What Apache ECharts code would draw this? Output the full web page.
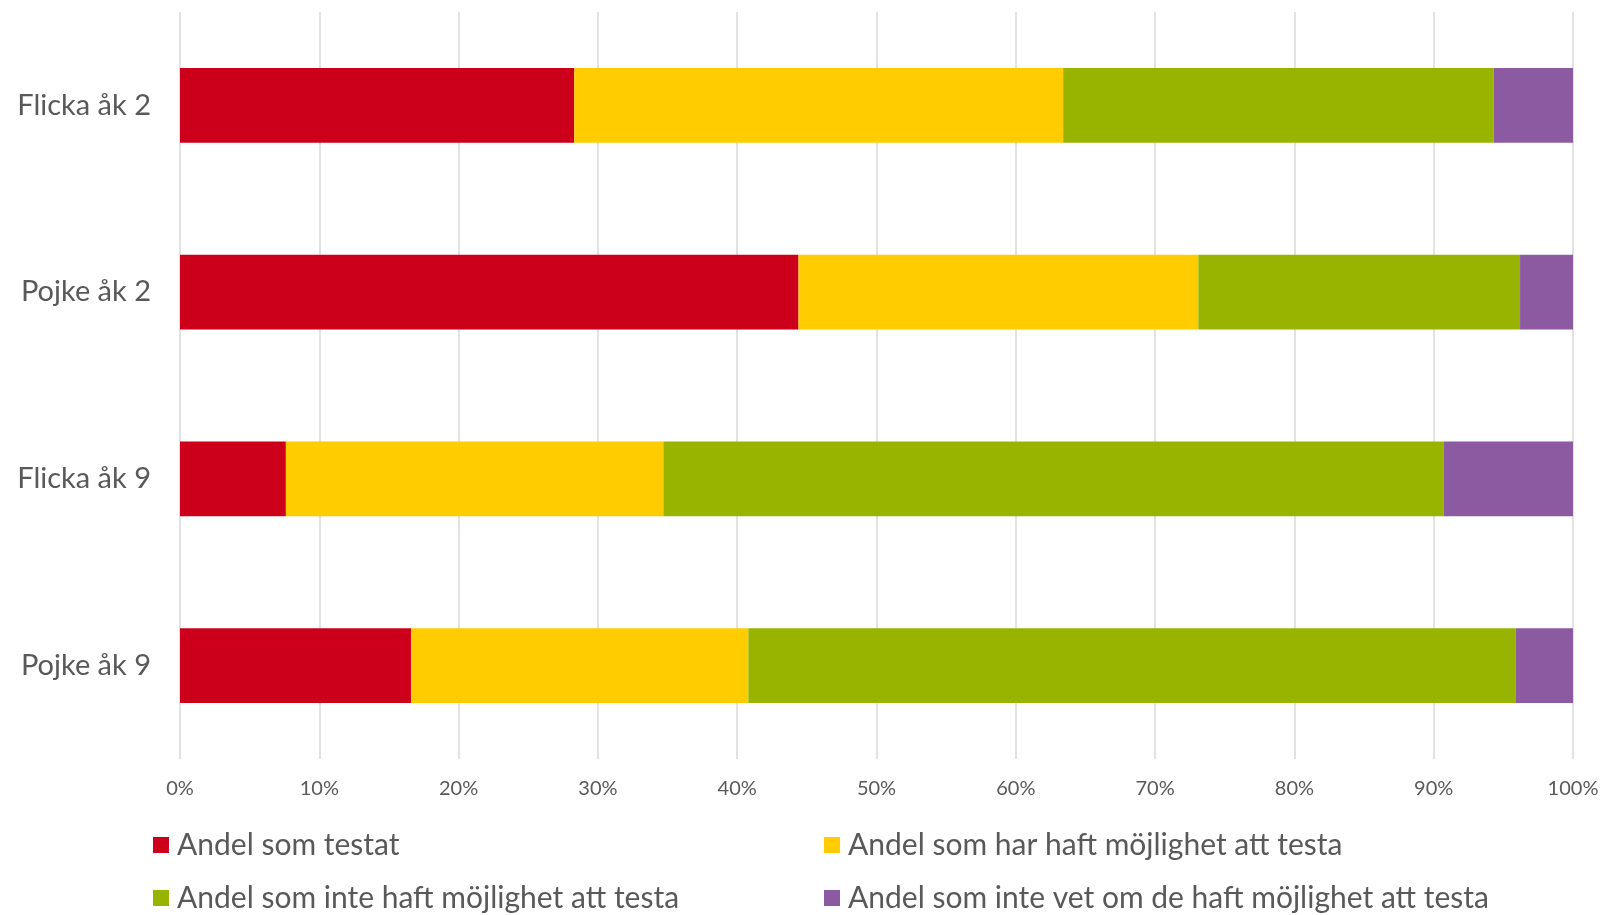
<!DOCTYPE html>
<html>
<head>
<meta charset="utf-8">
<script src="https://cdn.jsdelivr.net/npm/echarts@6/dist/echarts.min.js"></script>
<style>
  html, body { margin: 0; padding: 0; background: #fff; }
  #chart { width: 1604px; height: 915px; }
</style>
</head>
<body>
<div id="chart"></div>
<script>
// kategorier (uppifrån och ned)
var categories = ['Flicka åk 2', 'Pojke åk 2', 'Flicka åk 9', 'Pojke åk 9'];
var seriesNames = [
    'Andel som testat',
    'Andel som har haft möjlighet att testa',
    'Andel som inte haft möjlighet att testa',
    'Andel som inte vet om de haft möjlighet att testa'
];
// andelar i procent, samma ordning som categories
var testat      = [28.3, 44.4, 7.6, 16.6];
var harMojlighet = [35.1, 28.7, 27.1, 24.2];
var inteMojlighet = [30.9, 23.1, 56.0, 55.1];
var vetInte     = [5.7, 3.8, 9.3, 4.1];
var xTicks = [0, 10, 20, 30, 40, 50, 60, 70, 80, 90, 100];

var colors = ['#cc001b', '#ffcc00', '#98b400', '#8c5aa0'];
var fontFam = 'Lato, "Open Sans", sans-serif';
var textColor = '#595959';

var chart = echarts.init(document.getElementById('chart'));

var values = [testat, harMojlighet, inteMojlighet, vetInte];
var series = [];
for (var i = 0; i < seriesNames.length; i++) {
    series.push({
        name: seriesNames[i],
        type: 'bar',
        stack: 'total',
        barCategoryGap: '60%',
        itemStyle: { color: colors[i] },
        data: values[i]
    });
}

function ext(a, b) {
    var o = {};
    for (var k in a) { o[k] = a[k]; }
    for (var k2 in b) { o[k2] = b[k2]; }
    return o;
}

var legendCommon = {
    orient: 'vertical',
    icon: 'rect',
    padding: 0,
    height: 200,
    itemWidth: 16,
    itemHeight: 16,
    itemGap: 23,
    textStyle: { fontFamily: fontFam, fontSize: 30, color: textColor, padding: [0, 0, 0, 3] }
};

chart.setOption({
    animation: false,
    color: colors,
    grid: { left: 180, right: 31, top: 12, bottom: 156 },
    legend: [
        ext(legendCommon, { left: 153, top: 830, data: [seriesNames[0], seriesNames[2]] }),
        ext(legendCommon, { left: 824, top: 830, data: [seriesNames[1], seriesNames[3]] })
    ],
    xAxis: {
        type: 'value',
        min: 0,
        max: 100,
        interval: 10,
        axisLine: { show: false },
        axisTick: { show: false },
        splitLine: { lineStyle: { color: '#d9d9d9', width: 1.5 } },
        axisLabel: {
            margin: 20,
            fontFamily: fontFam,
            fontSize: 20,
            color: textColor,
            formatter: function (v) { return xTicks.indexOf(v) >= 0 ? v + '%' : ''; }
        }
    },
    yAxis: {
        type: 'category',
        inverse: true,
        data: categories,
        axisLine: { show: false },
        axisTick: { show: false },
        axisLabel: { margin: 29, fontFamily: fontFam, fontSize: 29, color: textColor }
    },
    series: series
});
</script>
</body>
</html>
